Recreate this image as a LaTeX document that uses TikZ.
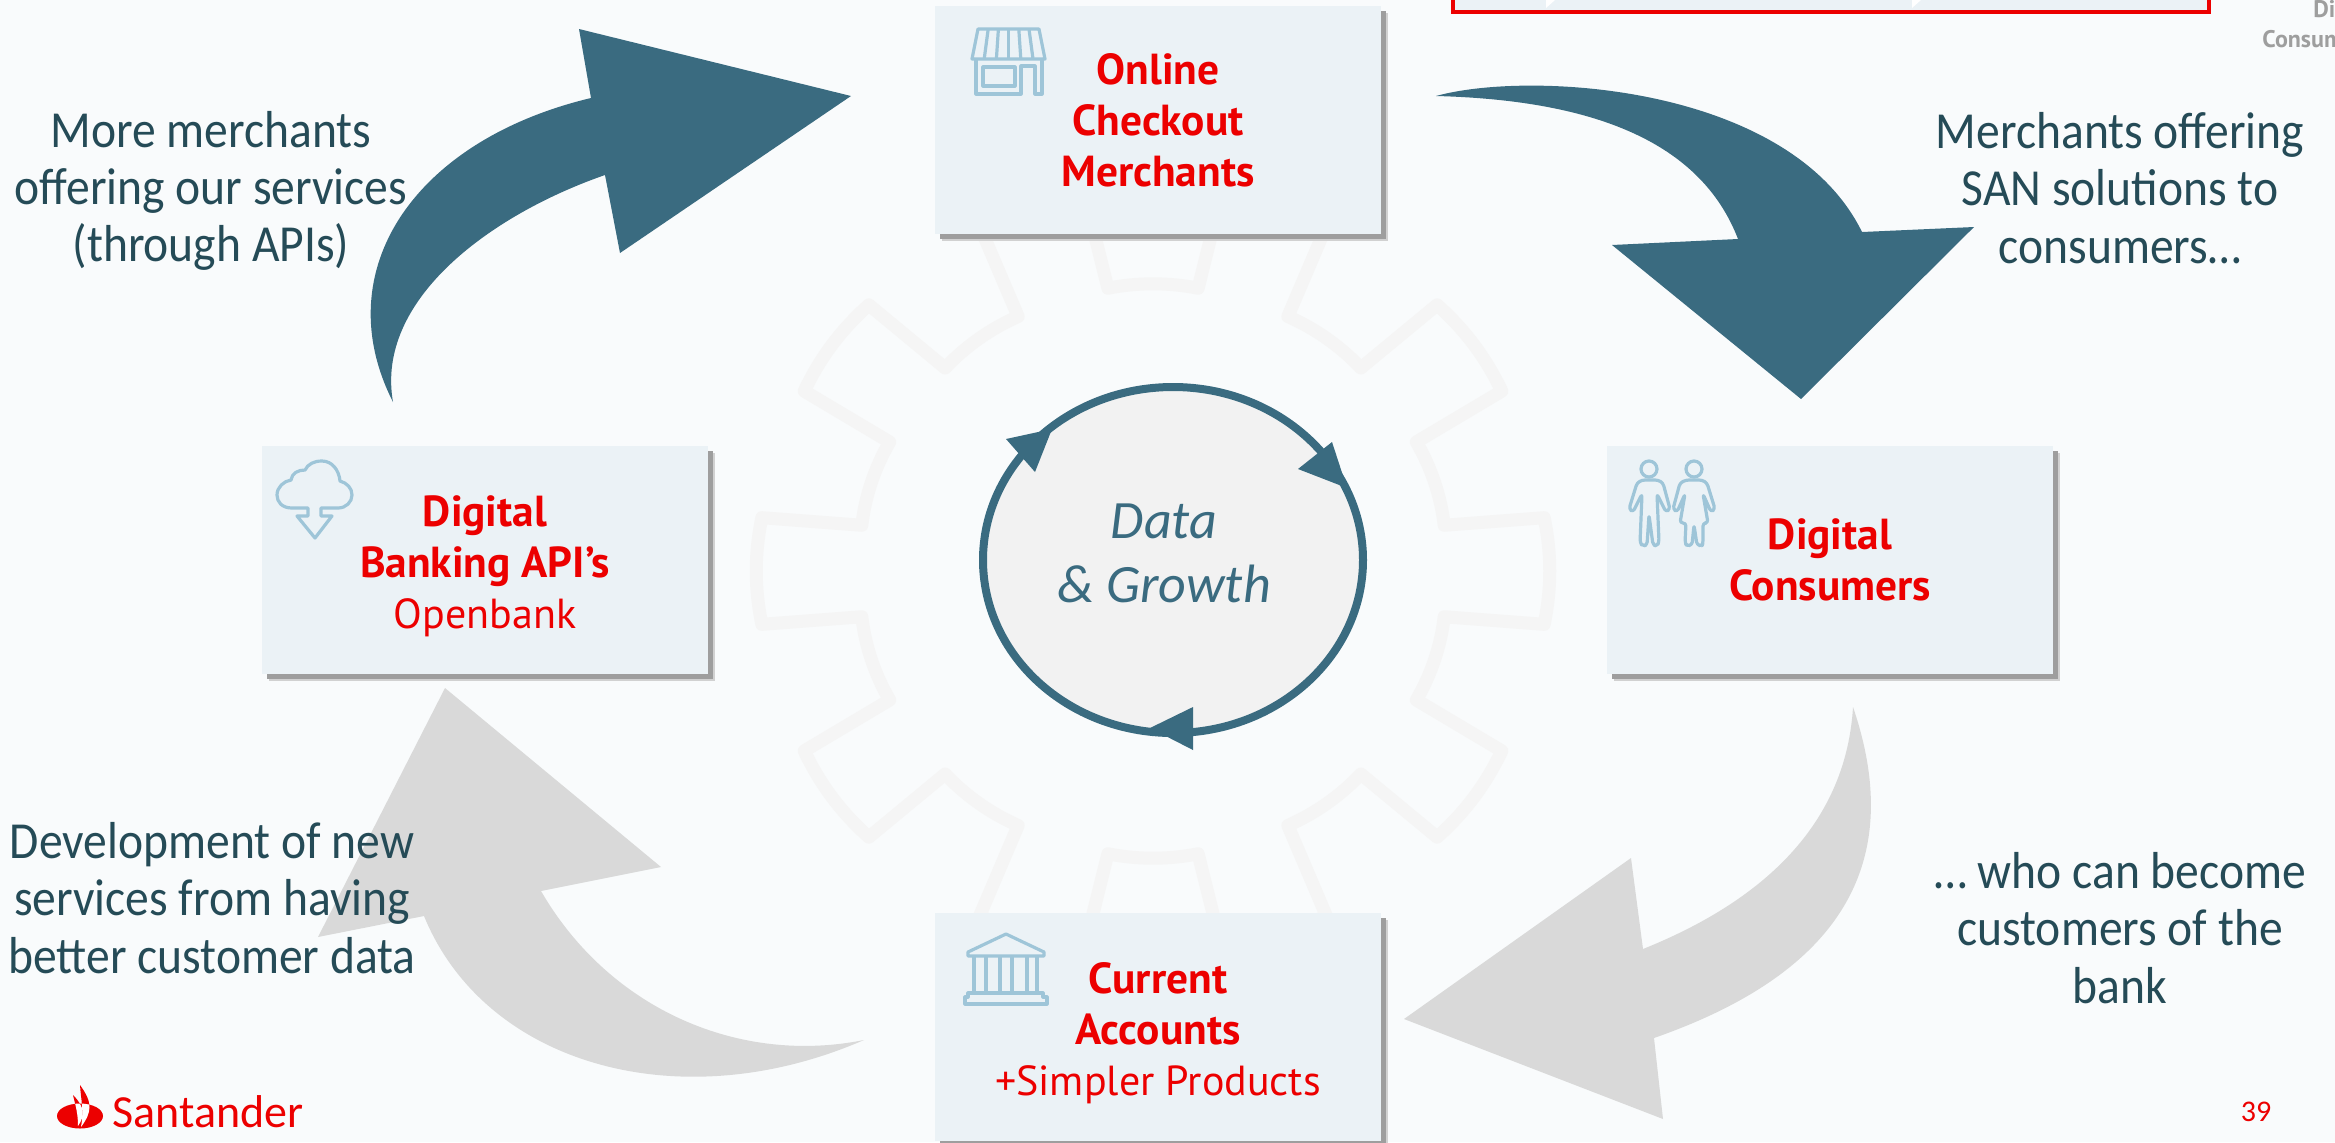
\documentclass[tikz,border=0pt]{standalone}
\usepackage{fontspec}
\setmainfont{Carlito}
\newfontfamily\cardfont{PT Sans}
\newfontfamily\notefont[FakeStretch=0.915]{Carlito}
\usetikzlibrary{shapes.geometric,shadows}

\definecolor{pagebg}{HTML}{F9FBFC}
\definecolor{cardbg}{HTML}{EBF2F6}
\definecolor{cardred}{HTML}{EC0000}
\definecolor{teal}{HTML}{3A6B80}
\definecolor{notetext}{HTML}{254B57}
\definecolor{arrowgray}{HTML}{D9D9D9}
\definecolor{geargray}{HTML}{F5F5F5}
\definecolor{iconblue}{HTML}{9EC5D8}
\definecolor{hubfill}{HTML}{F2F2F2}

\newcommand\cardhead[1]{{\fontsize{21.7}{25.5}\selectfont\bfseries #1}}
\newcommand\flamepathA{(80,1085) .. controls (93,1103) and (92,1112) .. (81,1127)
  .. controls (84,1110) and (81,1100) .. (80,1085) -- cycle}
\newcommand\flamepathB{(73,1095) .. controls (85,1107) and (85,1116) .. (78,1126)
  .. controls (78,1114) and (76,1107) .. (73,1095) -- cycle}

\tikzset{
  cardbox/.style={fill=cardbg,inner sep=0pt,minimum width=223pt,minimum height=114pt,
    align=center,text=cardred,font=\cardfont\fontsize{21}{25.5}\selectfont,
    general shadow={shadow xshift=3.6pt,shadow yshift=-3.6pt,fill=black!18},
    general shadow={shadow xshift=2.6pt,shadow yshift=-2.6pt,fill=black!38}},
  notetxt/.style={text=notetext,align=center,inner sep=0pt,
    font=\notefont\fontsize{26}{28.7}\selectfont},
  iconline/.style={draw=iconblue,line width=1.6pt,line join=round},
  gearline/.style={draw=geargray,line width=6.5pt,line join=round},
}

\begin{document}
\begin{tikzpicture}[x=0.5pt,y=-0.5pt]
  \path[clip,use as bounding box] (0,0) rectangle (2335,1142);
  \fill[pagebg] (0,0) rectangle (2335,1142);

  \begin{scope}[shift={(1153,571)},yscale=0.97]
    \draw[gearline] (-9.2:295)
      \foreach \t in {0,36,...,324} {
        -- (\t-9.2:295) -- (\t-8:395)
        .. controls (\t-2.5:399) and (\t+2.5:399) .. (\t+8:395)
        -- (\t+9.2:295)
        .. controls (\t+15:298) and (\t+21:298) .. (\t+26.8:295)
      } -- cycle;
  \end{scope}

  \draw[cardred,line width=2pt,fill=cardbg] (1453,-10) rectangle (2209,12);
  \fill[white] (1546,0) -- (1555,0) -- (1546,8) -- cycle;
  \fill[white] (1912,0) -- (1921,0) -- (1912,8) -- cycle;
  \node[anchor=base west,text=black!38,inner sep=0pt,font=\cardfont\bfseries\fontsize{12}{14}\selectfont]
    (diLabel) at (2313,17) {Di};
  \node[anchor=base west,text=black!38,inner sep=0pt,font=\cardfont\bfseries\fontsize{12}{14}\selectfont]
    (consLabel) at (2262,47) {Consum};

  \fill[teal] (1436,96) .. controls (1530,70) and (1790,85) .. (1862,232)
    -- (1974,227) -- (1801,399) -- (1612,245) -- (1738,239)
    .. controls (1700,140) and (1590,100) .. (1436,96) -- cycle;
  \fill[teal] (393,402) .. controls (326,270) and (415,140) .. (591,98)
    -- (579,29) -- (851,96) -- (620,253) -- (605,175)
    .. controls (490,215) and (375,300) .. (393,402) -- cycle;
  \fill[arrowgray] (424,916) .. controls (485,1065) and (680,1120) .. (864,1040)
    .. controls (740,1065) and (610,1010) .. (541,891)
    -- (661,867) -- (445,688) -- (318,937) -- cycle;
  \fill[arrowgray] (1853,707) .. controls (1912,880) and (1820,980) .. (1654,1038)
    -- (1663,1119) -- (1404,1019) -- (1631,858) -- (1643,949)
    .. controls (1740,910) and (1845,840) .. (1853,707) -- cycle;

  \node[cardbox] (merchants) at (1158,120)
    {\cardhead{Online}\\\cardhead{Checkout}\\\cardhead{Merchants}};
  \node[cardbox] (banking) at (485,560)
    {\rule{0pt}{21.5pt}\cardhead{Digital}\\\cardhead{Banking API’s}\\Openbank};
  \node[cardbox] (consumers) at (1830,560)
    {\cardhead{Digital}\\\cardhead{Consumers}};
  \node[cardbox] (accounts) at (1158,1027)
    {\rule{0pt}{22pt}\cardhead{Current}\\\cardhead{Accounts}\\+Simpler Products};

  \foreach \i in {1,...,5} {
    \draw[iconline] ({978+\i*10.2},29) -- ({972+\i*12.2},59);
  }
  \draw[iconline] (978,29) -- (1039,29) -- (1045,59) -- (972,59) -- cycle;
  \draw[iconline] (976,59) -- (976,94) -- (1021,94) -- (1021,66) -- (1035,66) -- (1035,94) -- (1042,94) -- (1042,59);
  \draw[iconline] (983,67) rectangle (1015,86);

  \draw[iconline] (308,508) -- (292,508) .. controls (282,508) and (277,502) .. (277,495)
    .. controls (277,487) and (284,481) .. (291,480) .. controls (292,473) and (298,470) .. (305,470)
    .. controls (308,464) and (314,461) .. (322,461) .. controls (332,461) and (339,470) .. (340,481)
    .. controls (347,483) and (352,488) .. (352,495) .. controls (352,502) and (346,508) .. (338,508)
    -- (321,508) -- (321,516) -- (332,516) -- (315,538) -- (297,516) -- (308,516) -- cycle;

  \draw[iconline] (1649,469) circle (8);
  \draw[iconline,rounded corners=1.5pt] (1642,480) -- (1637,483) -- (1629,509) -- (1633,512) -- (1642,494)
    -- (1640,543) -- (1643,546) -- (1647,545) -- (1649,515) -- (1653,545) -- (1657,546) -- (1659,542)
    -- (1657,494) -- (1666,512) -- (1670,509) -- (1663,483) -- (1658,480) -- cycle;
  \draw[iconline] (1694,469) circle (8);
  \draw[iconline,rounded corners=1.5pt] (1686,480) -- (1680,483) -- (1673,509) -- (1677,512) -- (1685,494)
    -- (1680,523) -- (1686,523) -- (1685,543) -- (1687,546) -- (1692,545) -- (1694,525) -- (1697,545)
    -- (1702,546) -- (1703,543) -- (1703,523) -- (1708,523) -- (1703,494) -- (1711,512) -- (1715,509)
    -- (1707,483) -- (1702,480) -- cycle;

  \draw[iconline] (968,956) -- (968,952) -- (1006,934) -- (1044,952) -- (1044,956) -- cycle;
  \draw[iconline] (974,956) -- (974,993);
  \draw[iconline] (986,956) -- (986,993);
  \draw[iconline] (1000,956) -- (1000,993);
  \draw[iconline] (1012,956) -- (1012,993);
  \draw[iconline] (1027,956) -- (1027,993);
  \draw[iconline] (1037,956) -- (1037,993);
  \draw[iconline] (968,997) -- (968,993) -- (1043,993) -- (1043,997) -- (1047,997) -- (1047,1004) -- (965,1004) -- (965,997) -- cycle;

  \node[ellipse,draw=teal,fill=hubfill,line width=4pt,inner sep=0pt,
    minimum width=190pt,minimum height=173pt] (hub) at (1173,560) {};
  \fill[teal] (1006,439) -- (1052,429) -- (1035,472) -- cycle;
  \fill[teal] (1332,442) -- (1347,488) -- (1298,469) -- cycle;
  \fill[teal] (1150,728) -- (1193,707) -- (1193,750) -- cycle;
  \node[text=teal,align=center,inner sep=0pt,font=\itshape\fontsize{27}{32}\selectfont]
    (hubText) at (1164,553) {Data\\\& Growth};

  \node[notetxt] (noteMerchants) at (211,191) {More merchants\\offering our services\\(through APIs)};
  \node[notetxt] (noteOffering) at (2120,188) {Merchants offering\\SAN solutions to\\consumers…};
  \node[notetxt] (noteCustomers) at (2120,928) {… who can become\\customers of the\\bank};
  \node[notetxt] (noteServices) at (212,898) {Development of new\\services from having\\better customer data};

  \fill[cardred] (80,1116) ellipse (23 and 12.5);
  \fill[cardred] \flamepathA;
  \fill[cardred] \flamepathB;
  \begin{scope}
    \clip (80,1116) ellipse (23 and 12.5);
    \fill[white] \flamepathA;
    \fill[white] \flamepathB;
  \end{scope}
  \node[anchor=base west,text=cardred,inner sep=0pt,font=\fontsize{23}{26}\selectfont]
    (brand) at (112,1127) {Santander};
  \node[text=cardred,inner sep=0pt,font=\fontsize{15}{17}\selectfont] (pageNum) at (2256,1112) {39};
\end{tikzpicture}
\end{document}
